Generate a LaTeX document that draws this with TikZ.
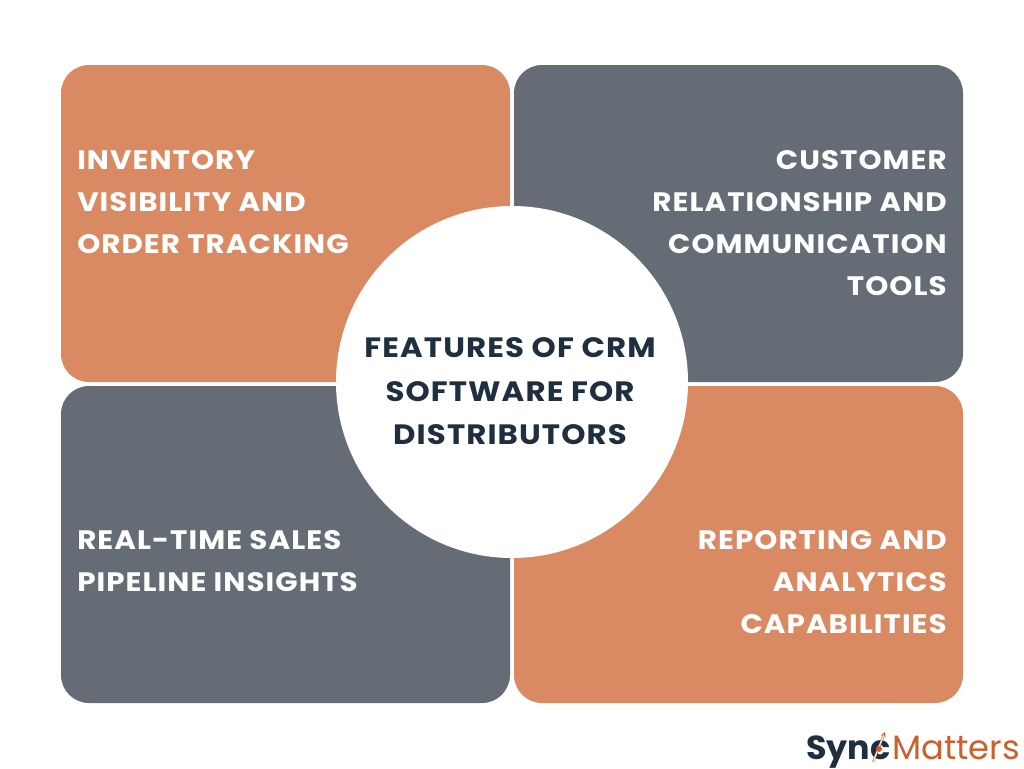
\documentclass[tikz,border=0pt]{standalone}
\usepackage{fontspec}
\setmainfont{Poppins}
\newfontfamily\headfont[LetterSpace=4,FakeStretch=1.10]{Poppins Bold}
\usetikzlibrary{positioning}
\definecolor{clay}{HTML}{DA8A63}
\definecolor{slate}{HTML}{666C76}
\definecolor{ink}{HTML}{1F2F3F}
\definecolor{rust}{HTML}{C9602D}

\begin{document}
\begin{tikzpicture}[x=0.75pt,y=-0.75pt,>=stealth,
    panel/.style={rectangle,rounded corners=21pt,minimum width=336.75pt,minimum height=237.75pt,inner sep=0pt},
    paneltext/.style={text=white,inner sep=0pt,font=\headfont\fontsize{20}{31.5}\selectfont},
    hub/.style={circle,fill=white,minimum size=264pt,inner sep=0pt}]
    \useasboundingbox (0,0) rectangle (1024,768);
    \node[panel,fill=clay]  (inv) at (285.5,223.5) {};
    \node[panel,fill=slate] (cus) [right of=inv,node distance=339.75pt] {};
    \node[panel,fill=slate] (sal) [below of=inv,node distance=240.75pt] {};
    \node[panel,fill=clay]  (rep) [right of=sal,node distance=339.75pt] {};
    \node[hub] (hb) at (512,382) {};
    \node[paneltext,align=left,anchor=west]  (t_inv) at (77,202)  {INVENTORY\\VISIBILITY AND\\ORDER TRACKING};
    \node[paneltext,align=right,anchor=east] (t_cus) at (947,223) {CUSTOMER\\RELATIONSHIP AND\\COMMUNICATION\\TOOLS};
    \node[paneltext,align=left,anchor=west]  (t_sal) at (77,561)  {REAL-TIME SALES\\PIPELINE INSIGHTS};
    \node[paneltext,align=right,anchor=east] (t_rep) at (947,582) {REPORTING AND\\ANALYTICS\\CAPABILITIES};
    \node[paneltext,text=ink,align=center,font=\headfont\fontsize{21}{32.6}\selectfont] (t_hb) at (510,391.5) {FEATURES OF CRM\\SOFTWARE FOR\\DISTRIBUTORS};
    % logo
    \node[inner sep=0pt,anchor=base west,text=ink,font=\fontsize{25}{25}\selectfont\bfseries] (l_syn) at (806,759) {Sync};
    \node[inner sep=0pt,anchor=base west,text=rust,font=\fontsize{25.3}{25}\selectfont] (l_mat) at (892,759) {Matters};
    \coordinate (a_s) at (873,762);
    \coordinate (a_e) at (885,732);
    \draw[->,rust,line width=0.4pt,double,double distance=0.8pt] (a_s) -- (a_e);
    \fill[rust] (879,749) circle (3);
\end{tikzpicture}
\end{document}
